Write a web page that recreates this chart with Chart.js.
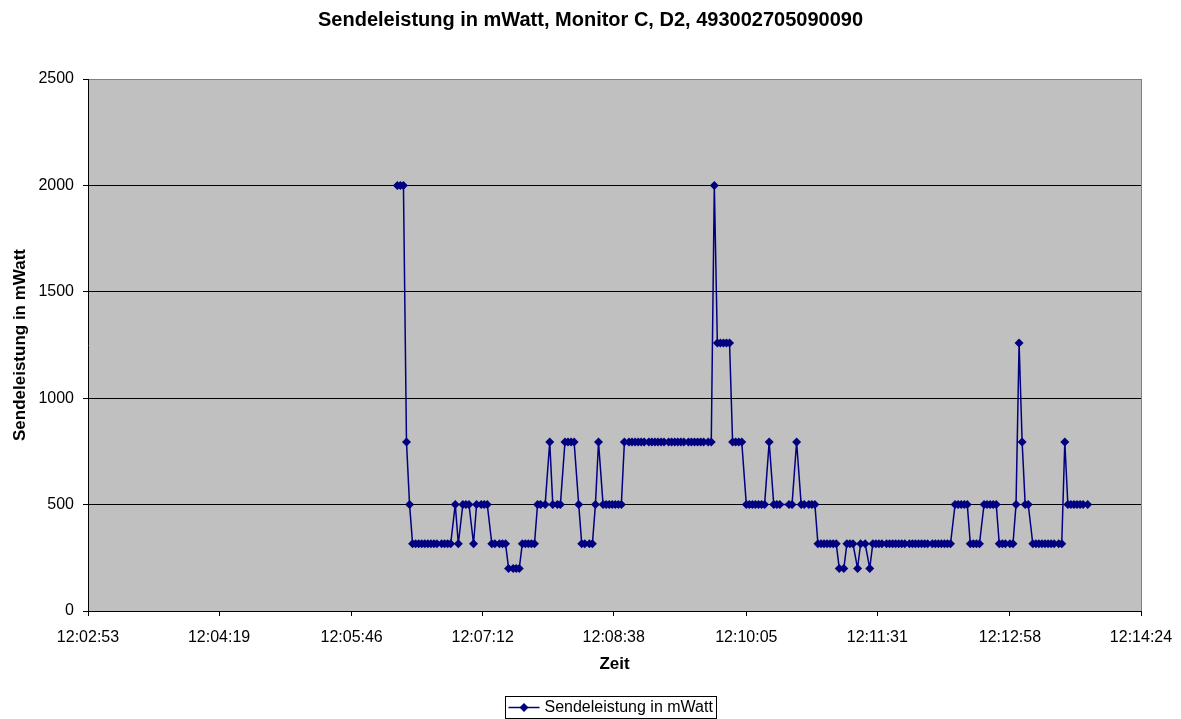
<!DOCTYPE html>
<html>
<head>
<meta charset="utf-8">
<script src="https://cdn.jsdelivr.net/npm/chart.js@4.4.1/dist/chart.umd.min.js"></script>
<style>
  html, body { margin: 0; padding: 0; background: #ffffff; }
  canvas { display: block; }
</style>
</head>
<body>
<canvas id="chart" width="1181" height="719"></canvas>
<script>
// Sample timestamps (hh:mm:ss) of the transmit power log
const sampleTimes = [
  '12:06:16','12:06:18','12:06:20','12:06:22','12:06:24',
  '12:06:26','12:06:28','12:06:30','12:06:32','12:06:34','12:06:36','12:06:38','12:06:40','12:06:42','12:06:45','12:06:47','12:06:49','12:06:51',
  '12:06:54','12:06:56','12:06:59','12:07:01','12:07:03','12:07:06','12:07:08','12:07:11','12:07:13','12:07:15',
  '12:07:18','12:07:20','12:07:23','12:07:25','12:07:27',
  '12:07:29','12:07:32','12:07:34','12:07:36',
  '12:07:38','12:07:40','12:07:42','12:07:44','12:07:46',
  '12:07:48','12:07:50','12:07:53',
  '12:07:56',
  '12:07:58','12:08:01','12:08:03',
  '12:08:06','12:08:08','12:08:10','12:08:12',
  '12:08:15',
  '12:08:17','12:08:19','12:08:22','12:08:24',
  '12:08:26',
  '12:08:28',
  '12:08:31','12:08:33','12:08:35','12:08:37','12:08:39','12:08:41','12:08:43',
  '12:08:45','12:08:48','12:08:50','12:08:52','12:08:54','12:08:56','12:08:58','12:09:01','12:09:03','12:09:05',
  '12:09:07','12:09:09','12:09:11','12:09:14','12:09:16','12:09:18','12:09:20','12:09:22','12:09:24','12:09:27',
  '12:09:29','12:09:31','12:09:33','12:09:35','12:09:37','12:09:40','12:09:42',
  '12:09:44',
  '12:09:46','12:09:48','12:09:50','12:09:52','12:09:54',
  '12:09:56','12:09:58','12:10:00','12:10:02',
  '12:10:05','12:10:07','12:10:09','12:10:11','12:10:13','12:10:15','12:10:17',
  '12:10:20',
  '12:10:23','12:10:25','12:10:27','12:10:33','12:10:35',
  '12:10:38',
  '12:10:41','12:10:43','12:10:46','12:10:48','12:10:50',
  '12:10:52','12:10:54','12:10:56','12:10:58','12:11:00','12:11:02','12:11:04',
  '12:11:06','12:11:09',
  '12:11:11','12:11:13','12:11:15',
  '12:11:18',
  '12:11:20','12:11:23',
  '12:11:26',
  '12:11:28','12:11:30','12:11:32','12:11:34','12:11:37','12:11:39','12:11:41','12:11:43','12:11:45','12:11:47',
  '12:11:49','12:11:52','12:11:54','12:11:56','12:11:58','12:12:00','12:12:02','12:12:04','12:12:07','12:12:09',
  '12:12:11','12:12:13','12:12:15','12:12:17','12:12:19',
  '12:12:22','12:12:24','12:12:26','12:12:28','12:12:30',
  '12:12:32','12:12:34','12:12:36','12:12:38',
  '12:12:41','12:12:43','12:12:45','12:12:47','12:12:49',
  '12:12:51','12:12:53','12:12:55','12:12:58','12:13:00',
  '12:13:02',
  '12:13:04',
  '12:13:06',
  '12:13:08','12:13:10',
  '12:13:13','12:13:15','12:13:17','12:13:19','12:13:21','12:13:23','12:13:25','12:13:27','12:13:30','12:13:32',
  '12:13:34',
  '12:13:36','12:13:38','12:13:40','12:13:42','12:13:44','12:13:46','12:13:49'
];

// Transmit power in mW at each sample
const powerValues = [
  2000, 2000, 2000, 794, 501,
  316, 316, 316, 316, 316, 316, 316, 316, 316, 316, 316, 316, 316,
  501, 316, 501, 501, 501, 316, 501, 501, 501, 501,
  316, 316, 316, 316, 316,
  200, 200, 200, 200,
  316, 316, 316, 316, 316,
  501, 501, 501,
  794,
  501, 501, 501,
  794, 794, 794, 794,
  501,
  316, 316, 316, 316,
  501,
  794,
  501, 501, 501, 501, 501, 501, 501,
  794, 794, 794, 794, 794, 794, 794, 794, 794, 794,
  794, 794, 794, 794, 794, 794, 794, 794, 794, 794,
  794, 794, 794, 794, 794, 794, 794,
  2000,
  1259, 1259, 1259, 1259, 1259,
  794, 794, 794, 794,
  501, 501, 501, 501, 501, 501, 501,
  794,
  501, 501, 501, 501, 501,
  794,
  501, 501, 501, 501, 501,
  316, 316, 316, 316, 316, 316, 316,
  200, 200,
  316, 316, 316,
  200,
  316, 316,
  200,
  316, 316, 316, 316, 316, 316, 316, 316, 316, 316,
  316, 316, 316, 316, 316, 316, 316, 316, 316, 316,
  316, 316, 316, 316, 316,
  501, 501, 501, 501, 501,
  316, 316, 316, 316,
  501, 501, 501, 501, 501,
  316, 316, 316, 316, 316,
  501,
  1259,
  794,
  501, 501,
  316, 316, 316, 316, 316, 316, 316, 316, 316, 316,
  794,
  501, 501, 501, 501, 501, 501, 501
];

// Axis tick labels
const xTickLabels = ['12:02:53','12:04:19','12:05:46','12:07:12','12:08:38','12:10:05','12:11:31','12:12:58','12:14:24'];
const yTickValues = [0, 500, 1000, 1500, 2000, 2500];

const seriesName = 'Sendeleistung in mWatt';
const chartTitle = 'Sendeleistung in mWatt, Monitor C, D2, 493002705090090';

const FONT = '"Liberation Sans", Arial, Helvetica, sans-serif';
const LINE_COLOR = '#000080';

function toSeconds(hms) {
  const [h, m, s] = hms.split(':').map(Number);
  return h * 3600 + m * 60 + s;
}

const xTickValues = xTickLabels.map(toSeconds);
const points = sampleTimes.map((t, i) => ({ x: toSeconds(t), y: powerValues[i] }));

// Grey plot area and its frame
const plotBackground = {
  id: 'plotBackground',
  beforeDraw(chart) {
    const { ctx, chartArea: a } = chart;
    ctx.save();
    ctx.fillStyle = '#ffffff';
    ctx.fillRect(0, 0, chart.width, chart.height);
    ctx.fillStyle = '#c0c0c0';
    ctx.fillRect(a.left, a.top, a.right - a.left, a.bottom - a.top);
    ctx.restore();
  },
  beforeDatasetsDraw(chart) {
    const { ctx, chartArea: a } = chart;
    ctx.save();
    ctx.strokeStyle = '#808080';
    ctx.lineWidth = 1;
    ctx.beginPath();
    ctx.moveTo(Math.round(a.right) + 0.5, a.top);
    ctx.lineTo(Math.round(a.right) + 0.5, a.bottom);
    ctx.stroke();
    ctx.restore();
  }
};

// Framed legend with line-and-diamond sample under the plot
const boxedLegend = {
  id: 'boxedLegend',
  afterDraw(chart) {
    const ds = chart.data.datasets[0];
    const { ctx, chartArea: a } = chart;
    ctx.save();
    ctx.font = '16px ' + FONT;
    const tw = ctx.measureText(ds.label).width;
    const sample = 31;
    const w = 3 + sample + 5 + tw + 4;
    const h = 22;
    const left = Math.round((a.left + a.right) / 2 - w / 2 - 4) + 0.5;
    const top = chart.height - h - 0.5;
    const cy = top + h / 2;
    ctx.fillStyle = '#ffffff';
    ctx.fillRect(left, top, w, h);
    ctx.strokeStyle = '#000000';
    ctx.lineWidth = 1;
    ctx.strokeRect(left, top, Math.round(w), h);
    ctx.strokeStyle = ds.borderColor;
    ctx.lineWidth = 1.5;
    ctx.beginPath();
    ctx.moveTo(left + 3, cy);
    ctx.lineTo(left + 3 + sample, cy);
    ctx.stroke();
    const mx = left + 3 + sample / 2;
    const r = 4.5;
    ctx.fillStyle = ds.pointBackgroundColor;
    ctx.beginPath();
    ctx.moveTo(mx, cy - r);
    ctx.lineTo(mx + r, cy);
    ctx.lineTo(mx, cy + r);
    ctx.lineTo(mx - r, cy);
    ctx.closePath();
    ctx.fill();
    ctx.fillStyle = '#000000';
    ctx.textBaseline = 'middle';
    ctx.textAlign = 'left';
    ctx.fillText(ds.label, left + 3 + sample + 5, cy + 0.5);
    ctx.restore();
  }
};

new Chart(document.getElementById('chart').getContext('2d'), {
  type: 'line',
  data: {
    datasets: [{
      label: seriesName,
      data: points,
      borderColor: LINE_COLOR,
      backgroundColor: LINE_COLOR,
      borderWidth: 1.5,
      tension: 0,
      fill: false,
      pointStyle: 'rectRot',
      pointRadius: 4.5,
      pointBorderWidth: 0,
      pointBackgroundColor: LINE_COLOR,
      pointBorderColor: LINE_COLOR
    }]
  },
  options: {
    responsive: false,
    animation: false,
    devicePixelRatio: 1,
    events: [],
    layout: { padding: { left: 0, right: 0, top: 0, bottom: 38 } },
    plugins: {
      legend: { display: false },
      tooltip: { enabled: false },
      title: {
        display: true,
        text: chartTitle,
        color: '#000000',
        font: { family: FONT, size: 20, weight: 'bold' },
        padding: { top: 8, bottom: 47 }
      }
    },
    scales: {
      x: {
        type: 'linear',
        min: xTickValues[0],
        max: xTickValues[xTickValues.length - 1],
        afterBuildTicks(scale) { scale.ticks = xTickValues.map(v => ({ value: v })); },
        afterFit(scale) {
          scale.height = 70;
          scale.paddingLeft = 0;
          scale.paddingRight = 0;
        },
        ticks: {
          autoSkip: false,
          maxRotation: 0,
          color: '#000000',
          font: { family: FONT, size: 16 },
          padding: 12,
          callback: (v, i) => xTickLabels[i]
        },
        grid: { drawOnChartArea: false, drawTicks: true, tickLength: 5, color: '#000000' },
        border: { display: true, color: '#000000', width: 1 },
        title: {
          display: true,
          text: 'Zeit',
          color: '#000000',
          font: { family: FONT, size: 17, weight: 'bold' },
          padding: { top: 0, bottom: 6 }
        }
      },
      y: {
        type: 'linear',
        min: yTickValues[0],
        max: yTickValues[yTickValues.length - 1],
        afterBuildTicks(scale) { scale.ticks = yTickValues.map(v => ({ value: v })); },
        afterFit(scale) { scale.width = 88; },
        ticks: {
          color: '#000000',
          font: { family: FONT, size: 16 },
          padding: 9,
          callback: v => String(v)
        },
        grid: {
          tickLength: 5,
          color: ctx => (ctx.tick && ctx.tick.value === yTickValues[yTickValues.length - 1]) ? '#808080' : '#000000',
          tickColor: '#000000'
        },
        border: { display: true, color: '#000000', width: 1 },
        title: {
          display: true,
          text: seriesName,
          color: '#000000',
          font: { family: FONT, size: 17, weight: 'bold' },
          padding: { top: 10, bottom: 0 }
        }
      },
      // empty margin on the right so the title stays centred on the page
      yMargin: {
        type: 'linear',
        position: 'right',
        display: true,
        afterFit(scale) { scale.width = 40; },
        ticks: { display: false },
        grid: { display: false, drawTicks: false },
        border: { display: false },
        title: { display: false }
      }
    }
  },
  plugins: [plotBackground, boxedLegend]
});
</script>
</body>
</html>
